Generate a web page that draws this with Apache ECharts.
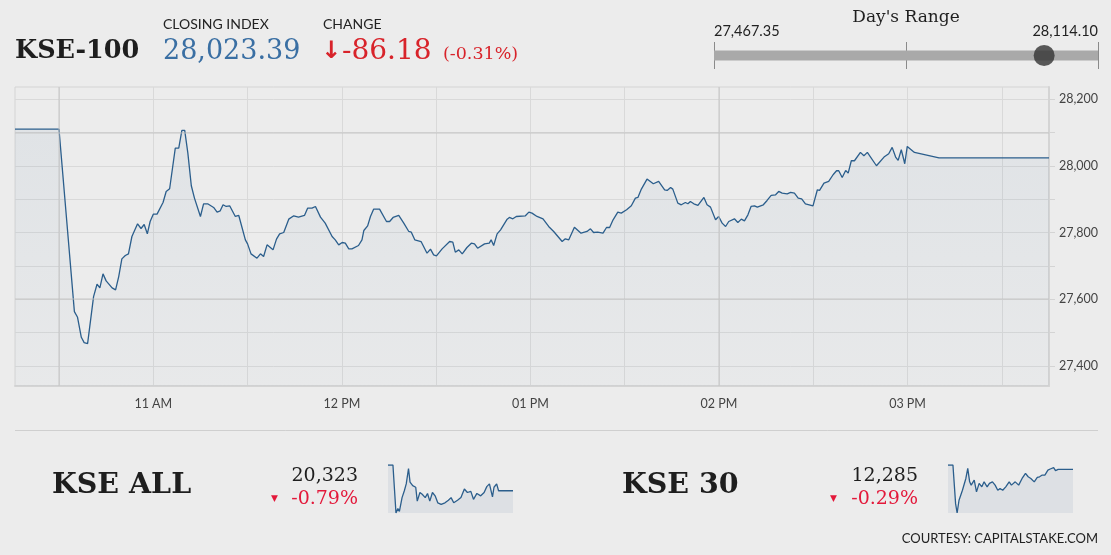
<!DOCTYPE html>
<html>
<head>
<meta charset="UTF-8">
<title>KSE-100</title>
<script type="text/javascript" src="https://cdn.jsdelivr.net/npm/echarts@6/dist/echarts.min.js"></script>
<style>
  html, body { margin: 0; padding: 0; background: #ececec; }
</style>
</head>
<body>
<div id="container" style="width:1111px;height:555px"></div>
<script type="text/javascript">
// KSE-100 intraday (time as HH:MM.m)
var kseTimes = [
  '10:16', '10:30', '10:34.9', '10:35.9', '10:37.1', '10:38.0', '10:39.1', '10:41.0', '10:42.1', '10:43.0',
  '10:44.0', '10:45.0', '10:46.9', '10:48.0', '10:49.0', '10:50.0', '10:51.1', '10:52.1', '10:53.2', '10:55.0',
  '10:56.1', '10:57.1', '10:58.1', '10:59.0', '11:00.0', '11:01.2', '11:03.1', '11:04.1', '11:05.2', '11:07.0',
  '11:08.1', '11:09.1', '11:10.0', '11:11.0', '11:12.1', '11:13.1', '11:15.0', '11:16.0', '11:17.3', '11:19.2',
  '11:20.3', '11:21.3', '11:22.2', '11:23.2', '11:24.3', '11:26.1', '11:27.2', '11:29.3', '11:30.0', '11:31.1',
  '11:33.0', '11:34.1', '11:35.1', '11:36.2', '11:38.1', '11:39.2', '11:40.2', '11:41.5', '11:43.1', '11:44.7',
  '11:46.2', '11:48.1', '11:49.1', '11:50.5', '11:51.6', '11:53.2', '11:54.7', '11:56.9', '11:57.9', '11:59.0',
  '12:00.1', '12:01.1', '12:02.2', '12:03.2', '12:05.3', '12:06.4', '12:07.0', '12:08.2', '12:09.1', '12:10.1',
  '12:12.0', '12:14.2', '12:15.2', '12:16.3', '12:18.1', '12:19.7', '12:21.3', '12:22.1', '12:23.2', '12:25.2',
  '12:27.1', '12:28.2', '12:29.2', '12:30.1', '12:31.9', '12:34.3', '12:35.3', '12:36.1', '12:37.2', '12:38.3',
  '12:39.8', '12:41.2', '12:42.2', '12:43.2', '12:45.4', '12:46.9', '12:47.5', '12:48.3', '12:49.4', '12:50.5',
  '12:52.6', '12:53.3', '12:54.4', '12:55.5', '12:58.4', '12:59.5', '13:00.5', '13:02.1', '13:04.0', '13:05.8',
  '13:07.4', '13:10.1', '13:11.1', '13:12.2', '13:14.0', '13:16.1', '13:18.0', '13:19.1', '13:20.1', '13:21.4',
  '13:23.1', '13:24.2', '13:25.2', '13:26.3', '13:27.8', '13:28.9', '13:30.6', '13:32.1', '13:33.4', '13:34.2',
  '13:35.3', '13:37.1', '13:39.1', '13:40.8', '13:42.7', '13:43.5', '13:44.6', '13:45.3', '13:46.9', '13:48.0',
  '13:49.3', '13:50.1', '13:50.9', '13:52.0', '13:53.3', '13:55.2', '13:56.2', '13:57.3', '13:58.9', '13:59.9',
  '14:01.0', '14:02.1', '14:03.1', '14:04.9', '14:06.0', '14:07.1', '14:08.1', '14:09.2', '14:10.2', '14:11.3',
  '14:12.2', '14:14.1', '14:15.3', '14:16.6', '14:18.0', '14:19.0', '14:20.1', '14:21.7', '14:22.8', '14:24.0',
  '14:25.2', '14:26.3', '14:27.5', '14:29.9', '14:31.3', '14:32.0', '14:33.4', '14:34.9', '14:36.3', '14:37.4',
  '14:38.1', '14:39.2', '14:40.3', '14:41.1', '14:42.1', '14:43.1', '14:45.0', '14:46.1', '14:47.2', '14:50.1',
  '14:52.5', '14:54.0', '14:55.1', '14:56.2', '14:57.0', '14:58.0', '14:58.8', '14:59.1', '14:59.9', '15:00.4',
  '15:02.2', '15:10.0', '15:45.0'
];
var kseValues = [
  28109.57, 28109.57, 27563, 27546, 27486, 27470, 27467, 27608, 27645, 27634,
  27676, 27655, 27634, 27628, 27668, 27721, 27731, 27736, 27788, 27826,
  27812, 27824, 27796, 27833, 27855, 27855, 27890, 27923, 27931, 28053,
  28053, 28106, 28106, 28038, 27940, 27903, 27848, 27886, 27886, 27875,
  27861, 27865, 27883, 27878, 27880, 27848, 27851, 27778, 27766, 27736,
  27723, 27736, 27728, 27763, 27748, 27780, 27796, 27800, 27840, 27850,
  27846, 27851, 27873, 27873, 27878, 27846, 27828, 27788, 27778, 27763,
  27770, 27768, 27751, 27751, 27761, 27778, 27806, 27820, 27848, 27870,
  27870, 27833, 27833, 27845, 27851, 27828, 27803, 27801, 27778, 27773,
  27738, 27750, 27733, 27730, 27751, 27773, 27771, 27741, 27748, 27736,
  27755, 27768, 27766, 27753, 27766, 27768, 27778, 27761, 27796, 27808,
  27840, 27845, 27841, 27848, 27850, 27861, 27858, 27848, 27841, 27818,
  27803, 27773, 27781, 27778, 27816, 27798, 27803, 27811, 27800, 27801,
  27798, 27815, 27815, 27838, 27861, 27858, 27868, 27880, 27903, 27905,
  27930, 27960, 27946, 27953, 27928, 27926, 27935, 27930, 27888, 27883,
  27890, 27886, 27893, 27886, 27881, 27905, 27883, 27876, 27838, 27848,
  27828, 27818, 27833, 27841, 27830, 27840, 27835, 27853, 27878, 27880,
  27876, 27883, 27896, 27911, 27913, 27923, 27918, 27916, 27920, 27918,
  27903, 27901, 27886, 27880, 27928, 27926, 27948, 27953, 27973, 27985,
  27985, 27965, 27986, 27978, 28015, 28015, 28040, 28030, 28040, 28000,
  28026, 28036, 28055, 28026, 28016, 28048, 28018, 28006, 28058, 28055,
  28040, 28023.39, 28023.39
];

// KSE ALL sparkline
var allTimes = ['10:16', '10:29', '10:37', '10:42', '10:46', '10:53', '10:59', '11:04', '11:10', '11:14',
  '11:21', '11:29', '11:33', '11:40', '11:46', '11:54', '12:00', '12:06', '12:13', '12:20',
  '12:27', '12:36', '12:46', '12:55', '13:02', '13:09', '13:19', '13:28', '13:37', '13:45',
  '13:54', '14:01', '14:10', '14:20', '14:29', '14:36', '14:43', '14:48', '14:51', '14:55',
  '15:02', '15:07', '15:45'];
var allValues = [20485, 20485, 20183, 20211, 20193, 20280, 20323, 20366, 20463, 20377,
  20355, 20345, 20258, 20312, 20301, 20280, 20306, 20258, 20312, 20291,
  20247, 20237, 20247, 20263, 20280, 20247, 20263, 20280, 20334, 20312,
  20319, 20269, 20306, 20291, 20312, 20349, 20366, 20377, 20284, 20345,
  20366, 20323, 20323];

// KSE 30 sparkline
var k30Times = ['10:16', '10:29', '10:36', '10:40', '10:45', '10:49', '10:54', '10:59', '11:03', '11:08',
  '11:13', '11:17', '11:25', '11:31', '11:38', '11:45', '11:51', '11:59', '12:05', '12:13',
  '12:20', '12:27', '12:33', '12:40', '12:48', '12:57', '13:03', '13:13', '13:22', '13:31',
  '13:40', '13:47', '13:54', '14:03', '14:11', '14:17', '14:24', '14:31', '14:39', '14:45',
  '14:54', '14:59', '15:06', '15:45'];
var k30Values = [12321, 12321, 12002, 11925, 12030, 12016, 12113, 12127, 12210, 12293,
  12182, 12155, 12196, 12099, 12169, 12141, 12182, 12141, 12169, 12182,
  12155, 12113, 12127, 12113, 12141, 12182, 12155, 12182, 12155, 12210,
  12252, 12224, 12210, 12182, 12218, 12224, 12238, 12238, 12279, 12288,
  12299, 12274, 12285, 12285];

var sessionStart = '10:16', sessionEnd = '15:45';
var yTicks = [27400, 27500, 27600, 27700, 27800, 27900, 28000, 28100, 28200];
var yLabels = [27400, 27600, 27800, 28000, 28200];
var xTicks = ['10:30', '11:00', '11:30', '12:00', '12:30', '13:00', '13:30', '14:00', '14:30', '15:00', '15:30'];
var xLabels = ['11:00', '12:00', '13:00', '14:00', '15:00'];
var boldLinesY = [28100, 27600];
var boldLinesX = ['10:30', '14:00'];

var closeValue = 28023.39, changeValue = -86.18, changePct = -0.31;
var dayLow = 27467.35, dayHigh = 28114.10;
var allClose = 20323, allPct = -0.79;
var k30Close = 12285, k30Pct = -0.29;

function toMin(t) {
  var p = t.split(':');
  return parseInt(p[0], 10) * 60 + parseFloat(p[1]);
}
function pairs(ts, vs) {
  var out = [];
  for (var i = 0; i < ts.length; i++) out.push([toMin(ts[i]), vs[i]]);
  return out;
}
function fmt(n, d) {
  return n.toLocaleString('en-US', {minimumFractionDigits: d, maximumFractionDigits: d});
}
function timeLabel(m) {
  var h = Math.floor(m / 60 + 0.001);
  var ap = h < 12 ? 'AM' : 'PM';
  var h12 = h > 12 ? h - 12 : h;
  return (h12 < 10 ? '0' + h12 : '' + h12) + ' ' + ap;
}

var serif = '"DejaVu Serif", "Liberation Serif", serif';
var sans = 'Lato, "Noto Sans", sans-serif';
var red = '#d8232a';
var lineBlue = '#2b5e8c';

function txt(text, x, y, size, color, opts) {
  opts = opts || {};
  return {
    type: 'text', silent: true,
    style: {
      text: text, x: x, y: y,
      fill: color,
      font: (opts.weight || 'normal') + ' ' + size + 'px ' + (opts.family || sans),
      textAlign: opts.align || 'left', align: opts.align || 'left',
      textVerticalAlign: 'middle', verticalAlign: 'middle'
    }
  };
}

function spark(gridIndex, ts, vs) {
  return {
    type: 'line', xAxisIndex: gridIndex, yAxisIndex: gridIndex,
    data: pairs(ts, vs), symbol: 'none', silent: true,
    lineStyle: {color: lineBlue, width: 1.3},
    areaStyle: {color: 'rgba(45,95,142,0.11)'}
  };
}
function sparkAxes(gridIndex, vs) {
  return {
    x: {type: 'value', gridIndex: gridIndex, show: false, min: toMin(sessionStart), max: toMin(sessionEnd)},
    y: {type: 'value', gridIndex: gridIndex, show: false, min: Math.min.apply(null, vs), max: Math.max.apply(null, vs)}
  };
}

var dom = document.getElementById('container');
var myChart = echarts.init(dom, null, {renderer: 'canvas'});

var aAx = sparkAxes(1, allValues);
var kAx = sparkAxes(2, k30Values);
var gridColor = '#d9d9d9';

var markData = [];
boldLinesY.forEach(function (v) { markData.push({yAxis: v}); });
boldLinesX.forEach(function (t) { markData.push({xAxis: toMin(t)}); });

var option = {
  backgroundColor: '#ececec',
  animation: false,
  grid: [
    {left: 15, right: 62, top: 87, bottom: 169, show: true, borderColor: '#d4d4d4', borderWidth: 1, backgroundColor: 'transparent'},
    {left: 388, top: 465, width: 125, height: 48},
    {left: 948, top: 465, width: 125, height: 48},
    {left: 714, top: 42, width: 384, height: 27}
  ],
  xAxis: [
    {
      type: 'value', gridIndex: 0,
      min: toMin(sessionStart), max: toMin(sessionEnd),
      axisLine: {show: true, lineStyle: {color: '#d4d4d4', width: 2}},
      axisTick: {show: false, customValues: xTicks.map(toMin)},
      splitLine: {show: true, lineStyle: {color: gridColor, width: 1}},
      axisLabel: {
        customValues: xLabels.map(toMin),
        formatter: function (v) { return timeLabel(v); },
        color: '#444', fontFamily: sans, fontSize: 12.5, margin: 11
      }
    },
    aAx.x, kAx.x,
    {
      type: 'value', gridIndex: 3, min: dayLow, max: dayHigh,
      axisLine: {show: false}, axisLabel: {show: false},
      axisTick: {show: false, customValues: [dayLow, (dayLow + dayHigh) / 2, dayHigh]},
      splitLine: {show: true, lineStyle: {color: '#8a8a8a', width: 1}}
    }
  ],
  yAxis: [
    {
      type: 'value', gridIndex: 0, position: 'right',
      min: 27340, max: 28236,
      axisLine: {show: true, lineStyle: {color: '#d4d4d4', width: 2}},
      axisTick: {show: true, length: 6, customValues: yTicks, lineStyle: {color: '#d4d4d4'}},
      splitLine: {show: true, lineStyle: {color: gridColor, width: 1}},
      axisLabel: {
        customValues: yLabels,
        formatter: function (v) { return fmt(v, 0); },
        color: '#444', fontFamily: sans, fontSize: 12.5, margin: 10
      }
    },
    aAx.y, kAx.y,
    {type: 'value', gridIndex: 3, show: false, min: -1, max: 1}
  ],
  series: [
    {
      type: 'line', xAxisIndex: 0, yAxisIndex: 0,
      data: pairs(kseTimes, kseValues),
      symbol: 'none', silent: true,
      lineStyle: {color: lineBlue, width: 1.3},
      areaStyle: {
        origin: 'start',
        color: new echarts.graphic.LinearGradient(0, 0, 0, 1, [
          {offset: 0, color: 'rgba(45,95,142,0.09)'},
          {offset: 1, color: 'rgba(45,95,142,0.03)'}
        ])
      },
      markLine: {
        silent: true, symbol: 'none', animation: false,
        label: {show: false},
        lineStyle: {type: 'solid', color: 'rgba(195,195,195,0.45)', width: 2},
        data: markData
      }
    },
    spark(1, allTimes, allValues),
    spark(2, k30Times, k30Values),
    {
      type: 'line', xAxisIndex: 3, yAxisIndex: 3, silent: true,
      data: [[dayLow, 0], [dayHigh, 0]], symbol: 'none',
      lineStyle: {color: '#a9a9a9', width: 10, cap: 'butt'}, z: 1
    },
    {
      type: 'scatter', xAxisIndex: 3, yAxisIndex: 3, silent: true,
      data: [[closeValue, 0]], symbolSize: 21,
      itemStyle: {color: '#333333'}, z: 3
    }
  ],
  graphic: [
    txt('KSE-100', 15, 51, 25.5, '#1e1e1e', {family: serif, weight: 'bold'}),
    txt('CLOSING INDEX', 163, 24, 14, '#222'),
    txt(fmt(closeValue, 2), 163, 52, 27, '#3a6fa3', {family: serif}),
    txt('CHANGE', 323, 24, 14, '#222'),
    txt('\u2193', 321, 52, 24, red, {family: '"DejaVu Sans", sans-serif', weight: 'bold'}),
    txt(fmt(changeValue, 2), 342, 52, 28, red, {family: serif}),
    txt('(' + fmt(changePct, 2) + '%)', 443, 54, 17.5, red, {family: serif}),
    txt("Day's Range", 906, 18, 17, '#1e1e1e', {family: serif, align: 'center'}),
    txt(fmt(dayLow, 2), 714, 31, 14.5, '#222'),
    txt(fmt(dayHigh, 2), 1098, 31, 14.5, '#222', {align: 'right'}),
    {
      type: 'line', silent: true,
      shape: {x1: 15, y1: 430.5, x2: 1098, y2: 430.5},
      style: {stroke: '#cfcfcf', lineWidth: 1}
    },
    txt('KSE ALL', 52, 486, 28.5, '#1e1e1e', {family: serif, weight: 'bold'}),
    txt(fmt(allClose, 0), 358, 476, 19, '#1e1e1e', {family: serif, align: 'right'}),
    txt(fmt(allPct, 2) + '%', 358, 499, 19, '#e3183a', {family: serif, align: 'right'}),
    txt('\u25BC', 271, 499, 9, '#e3183a', {family: '"DejaVu Sans", sans-serif'}),
    txt('KSE 30', 622, 486, 28.5, '#1e1e1e', {family: serif, weight: 'bold'}),
    txt(fmt(k30Close, 0), 918, 476, 19, '#1e1e1e', {family: serif, align: 'right'}),
    txt(fmt(k30Pct, 2) + '%', 918, 499, 19, '#e3183a', {family: serif, align: 'right'}),
    txt('\u25BC', 830, 499, 9, '#e3183a', {family: '"DejaVu Sans", sans-serif'}),
    txt('COURTESY: CAPITALSTAKE.COM', 1098, 539, 13, '#222', {align: 'right'})
  ]
};

myChart.setOption(option);
</script>
</body>
</html>
